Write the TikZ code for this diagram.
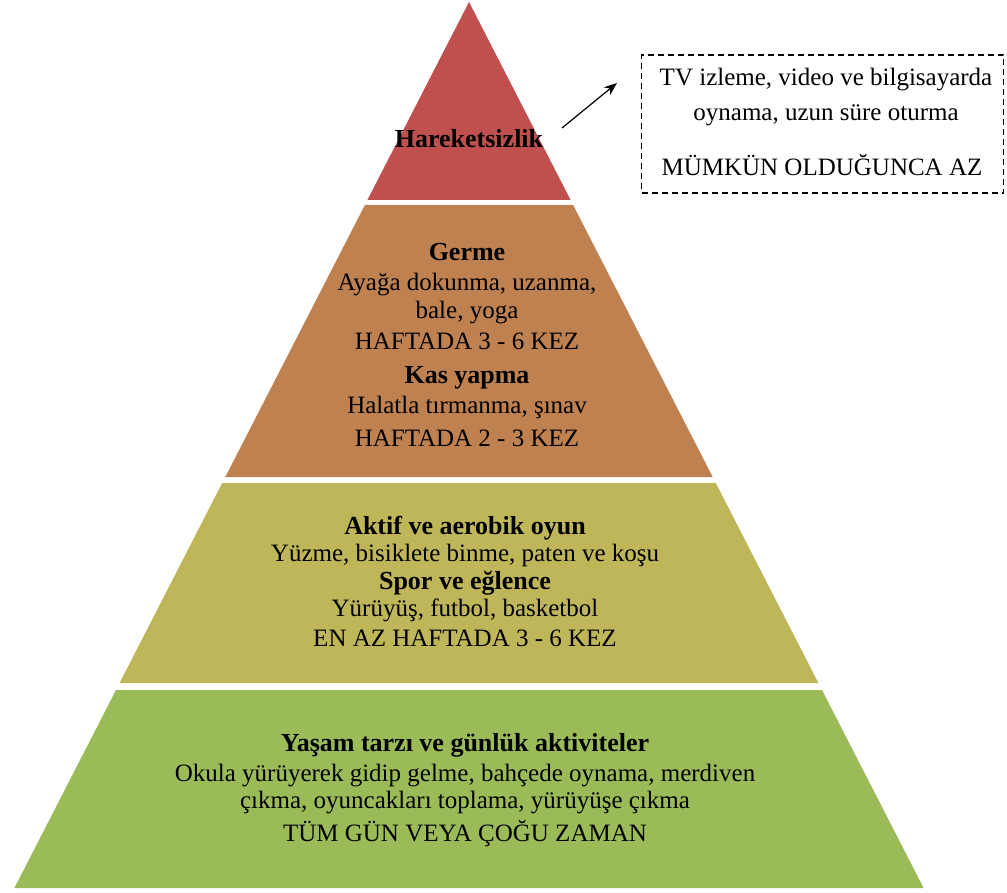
\documentclass[tikz,border=0pt]{standalone}
\usepackage{fontspec}
\setmainfont{Liberation Serif}
\usetikzlibrary{arrows.meta}
\definecolor{cred}{HTML}{C0504D}
\definecolor{cbrown}{HTML}{BF8150}
\definecolor{colive}{HTML}{BFB65A}
\definecolor{cgreen}{HTML}{9BBB59}
\tikzset{
  reg/.style={inner sep=0pt, anchor=base, font=\fontsize{25}{29}\selectfont},
  hd/.style={inner sep=0pt, anchor=base, font=\fontsize{26}{30}\selectfont\bfseries},
}
\begin{document}
\begin{tikzpicture}[x=1pt,y=-1pt]
\useasboundingbox (0,0) rectangle (1007,893);
% pyramid: centre x=469, half width = 0.513*(y-2)
\fill[cred]   (469,2) -- (570.6,200) -- (367.4,200) -- cycle;
\fill[cbrown] (364.9,205) -- (573.1,205) -- (712.7,477) -- (225.3,477) -- cycle;
\fill[colive] (222.2,483) -- (715.8,483) -- (818.4,683) -- (119.6,683) -- cycle;
\fill[cgreen] (116.0,690) -- (822.0,690) -- (923.6,888) -- (14.4,888) -- cycle;
% red
\node[hd] (h) at (469,148) {Hareketsizlik};
% box
\node[draw, dash pattern=on 6pt off 4pt, line width=1.1pt, minimum width=362pt, minimum height=138pt, inner sep=0pt] (box) at (822.5,124) {};
\node[reg] (b1) at (826,86) {TV izleme, video ve bilgisayarda};
\node[reg] (b2) at (826,121) {oynama, uzun süre oturma};
\node[reg] (b3) at (822,176) {MÜMKÜN OLDUĞUNCA AZ};
\coordinate (as) at (562,128);
\coordinate (ae) at (617,83);
\draw[line width=1.2pt, -{Stealth[length=13pt,width=10pt]}] (as) -- (ae);
% brown
\node[hd] (g1) at (467,261) {Germe};
\node[reg] (g2) at (467,291) {Ayağa dokunma, uzanma,};
\node[reg] (g3) at (467,319) {bale, yoga};
\node[reg] (g4) at (467,350) {HAFTADA 3 - 6 KEZ};
\node[hd] (g5) at (467,383) {Kas yapma};
\node[reg] (g6) at (467,413) {Halatla tırmanma, şınav};
\node[reg] (g7) at (467,446) {HAFTADA 2 - 3 KEZ};
% olive
\node[hd] (o1) at (465,534) {Aktif ve aerobik oyun};
\node[reg] (o2) at (465,561) {Yüzme, bisiklete binme, paten ve koşu};
\node[hd] (o3) at (465,589) {Spor ve eğlence};
\node[reg] (o4) at (465,616) {Yürüyüş, futbol, basketbol};
\node[reg] (o5) at (465,646) {EN AZ HAFTADA 3 - 6 KEZ};
% green
\node[hd] (y1) at (465,751) {Yaşam tarzı ve günlük aktiviteler};
\node[reg] (y2) at (465,781) {Okula yürüyerek gidip gelme, bahçede oynama, merdiven};
\node[reg] (y3) at (465,808) {çıkma, oyuncakları toplama, yürüyüşe çıkma};
\node[reg] (y4) at (465,841) {TÜM GÜN VEYA ÇOĞU ZAMAN};
\end{tikzpicture}
\end{document}
